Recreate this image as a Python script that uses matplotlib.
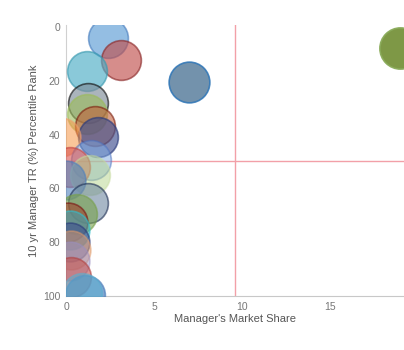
import matplotlib.pyplot as plt
import numpy as np

plt.rcParams['font.family'] = ['Liberation Sans', 'DejaVu Sans']

# managers: market share, 10 yr percentile rank, bubble size
share = [2.4, 3.1, 1.2, 7.0, 19.0, 1.25, 1.2, 1.65, 1.8, -0.3, 1.4, 0.2,
         1.35, 0.0, 1.25, 0.6, 0.1, 0.2, 0.2, 0.3, 0.2, 0.3, 1.1, 0.9]
rank = [4.0, 12.3, 16.3, 20.4, 8.0, 28.3, 32.5, 36.8, 41.0, 41.0, 49.5, 52.0,
        55.0, 57.0, 65.4, 69.5, 72.5, 75.5, 80.0, 83.0, 87.0, 93.0, 99.5, 99.0]
size = [820, 820, 820, 860, 880, 820, 820, 820, 820, 780, 820, 820,
        820, 780, 820, 820, 780, 780, 780, 780, 780, 820, 820, 820]
fills = ['#5b9bd5', '#c0504d', '#4bacc6', '#5b7f9e', '#77933c', '#7f8c99',
         '#9bbb59', '#c0603a', '#3f4f8f', '#f79646', '#7aa6e0', '#d9534f',
         '#b5d48a', '#4f81bd', '#6f88a0', '#77a04a', '#a0402a', '#3fa5b5',
         '#3f4f8f', '#e09a6a', '#9b8fc0', '#c0504d', '#4f81bd', '#5bb0d0']
edges = ['#4a7fbf', '#8b2a2a', '#3a9ab0', '#2e75b6', '#8aab5a', '#111111',
         '#9bbb59', '#7a1a0a', '#2a3a7a', '#f0a070', '#4a70c0', '#c04040',
         '#c8dca0', '#4f81bd', '#1a2a50', '#77a04a', '#7a1010', '#30c0d0',
         '#2a3a7a', '#e09a6a', '#9b8fc0', '#b04040', '#4f81bd', '#5bb0d0']
alphas = [0.65, 0.65, 0.65, 0.85, 0.95, 0.65, 0.6, 0.6, 0.65, 0.55, 0.5, 0.6,
          0.5, 0.6, 0.6, 0.6, 0.6, 0.6, 0.6, 0.5, 0.5, 0.6, 0.7, 0.55]

fig = plt.figure(figsize=(4.04, 3.5), dpi=100)
ax = fig.add_axes([66 / 404, 54 / 350, 338 / 404, 271 / 350])

for i in range(len(share)):
    ax.scatter(share[i], rank[i], s=size[i], c=fills[i], edgecolors=edges[i],
               linewidths=1.2, alpha=alphas[i], zorder=3)

# quadrant lines
ax.axvline(9.6, color='#f2a0a8', lw=1, zorder=2)
ax.axhline(50, color='#f2a0a8', lw=1, zorder=2)

ax.set_xlim(0, 19.2)
ax.set_ylim(100, -0.7)
ax.set_xticks([0, 5, 10, 15])
ax.set_yticks([0, 20, 40, 60, 80, 100])
ax.tick_params(length=0, labelsize=7.5, colors='#777777', pad=4)
ax.set_xlabel("Manager's Market Share", fontsize=8, color='#555555', labelpad=2)
ax.set_ylabel('10 yr Manager TR (%) Percentile Rank', fontsize=8, color='#555555', labelpad=3)

for side in ['top', 'right']:
    ax.spines[side].set_visible(False)
ax.spines['left'].set_color('#d0d0d0')
ax.spines['bottom'].set_color('#c8c8c8')

fig.savefig('out.png', dpi=100)
